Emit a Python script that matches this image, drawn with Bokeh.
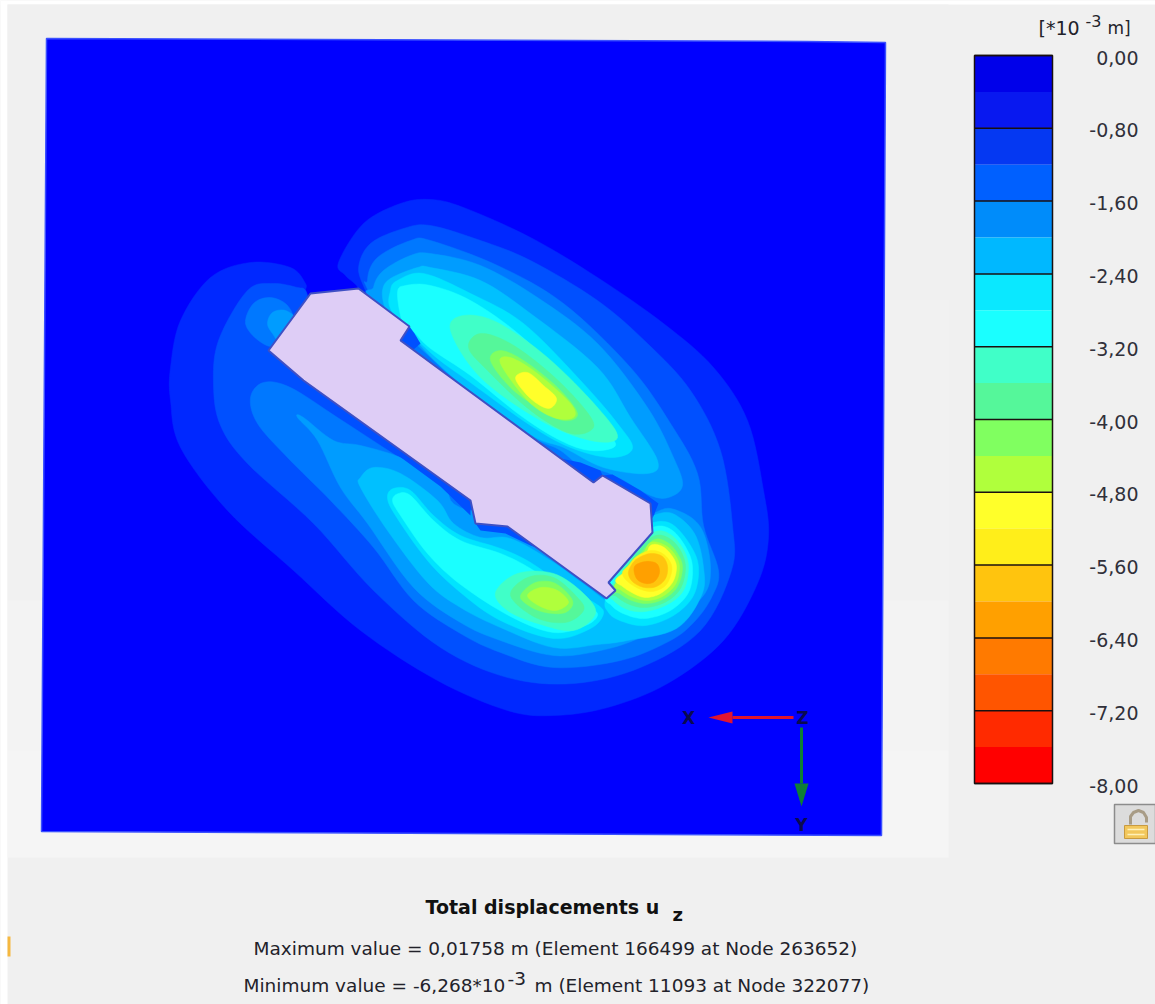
from bokeh.plotting import figure
from bokeh.models import Range1d
from bokeh.embed import file_html
from bokeh.resources import INLINE
from bokeh.core.properties import value
import numpy as np

# ---------- legend data ----------
legend_edges = [0.0,-0.4,-0.8,-1.2,-1.6,-2.0,-2.4,-2.8,-3.2,-3.6,-4.0,-4.4,-4.8,-5.2,-5.6,-6.0,-6.4,-6.8,-7.2,-7.6,-8.0]
legend_colors = ["#0000ea","#0818f0","#0538f2","#0060ff","#008cfa","#00b8ff","#0ae8ff","#1affff",
                 "#40ffc8","#55f79a","#80ff60","#b0ff3c","#ffff2a","#ffee1a","#ffc40e","#ffa000",
                 "#ff7a00","#ff5500","#ff2a00","#ff0000"]
map_colors = ["#0000ff","#0028ff","#0050ff","#0078ff","#009cff","#00c0ff","#00e4ff","#1affff",
              "#40ffc8","#55f79a","#80ff60","#b0ff3c","#ffff2a","#ffee1a","#ffc40e","#ffa000"]
legend_ticks = [0.0,-0.8,-1.6,-2.4,-3.2,-4.0,-4.8,-5.6,-6.4,-7.2,-8.0]
legend_labels = ["0,00","-0,80","-1,60","-2,40","-3,20","-4,00","-4,80","-5,60","-6,40","-7,20","-8,00"]

# ---------- map outlines ----------
model_outline = [(46,38),(806,41),(885,42),(881,835),(41,831)]
building = [(268,350),(310,293),(358,288),(409,326),(400,340),(593,482),(602,475),(650,503),(652,532),
            (608,582),(615,590),(606,598),(507,526),(475,523),(470,500),(303,380)]

band02 = [(430,199),(463,207),(530,237),(597,277),(663,323),(713,367),(747,420),(763,490),(768,537),(757,583),
          (723,640),(667,683),(607,707),(553,715),(507,710),(437,680),(360,630),(293,570),(227,510),(180,447),
          (170,400),(170,367),(180,320),(210,277),(250,262),(290,267),(305,283),(306,292),(320,310),(350,310),
          (358,289),(345,275),(338,262),(363,223),(400,203)]
band03 = [(430,225),(480,240),(530,260),(597,300),(647,343),(690,390),(720,450),(732,525),(731,570),
          (700,630),(640,667),(573,683),(507,677),(440,647),(373,590),(313,523),(247,463),(220,425),(213,385),
          (218,340),(247,290),(273,283),(297,287),(305,290),(315,310),(360,310),(366,295),(358,268),(370,243),(403,228)]
band04_main = [(375,305),(367,280),(377,257),(410,240),(430,240),(497,265),(563,303),(630,367),(670,423),(697,473),
               (703,525),(718,570),(712,595),(695,620),(670,640),(620,660),(553,667),(500,652),
               (460,633),(413,600),(373,547),(330,500),(287,457),(257,423),(250,397),(263,382),(290,387),(337,417),
               (383,447),(430,478),(465,505),(480,510)]
band04_left = [(245,323),(253,303),(270,297),(287,305),(292,322),(275,345),(258,340)]
band05_left = [(267,323),(272,312),(285,310),(295,320),(280,340),(272,333)]
band05_up = [(376,305),(373,287),(383,270),(410,255),(430,253),(480,265),(537,297),(597,343),(647,407),(673,457),
             (682,485),(668,497),(650,495),(620,478),(600,470),(585,470),(560,450),(540,441),(500,420)]
band05_low = [(470,510),(443,480),(400,457),(360,445),(333,440),(303,417),(297,417),(317,440),(340,487),(367,523),
              (413,587),(460,622),(500,640),(553,655),(600,650),(640,637),(682,613),(705,592),(710,567),(704,535),
              (692,518),(670,508),(655,512),(640,520)]
band06_up = [(385,308),(382,290),(390,278),(417,267),(430,267),(480,280),(530,313),(597,367),(630,417),(657,460),
             (647,473),(603,467),(563,447),(530,434),(460,383),(420,345),(415,330),(395,315)]
band06_low = [(640,520),(652,515),(672,513),(694,533),(703,567),(701,595),(676,628),(627,640),(597,644),(553,647),
              (500,627),(460,607),(427,582),(387,530),(360,487),(360,477),(373,467),(400,473),(437,500),(453,523),
              (480,537),(510,538),(550,560),(585,585),(606,600),(606,590)]
band07_up = [(392,312),(390,290),(397,280),(423,273),(470,293),(523,323),(580,380),(617,423),(632,448),(610,457),
             (570,447),(530,425),(470,382),(430,352)]
band07_low = [(387,497),(393,488),(410,490),(433,515),(460,535),(500,548),(530,562),(570,590),(595,603),(603,613),
              (590,628),(553,638),(500,620),(460,592),(427,560),(395,515)]
band07_hot = [(630,535),(653,522),(672,524),(690,545),(698,567),(693,595),(673,615),(645,625),(622,621),(608,612),(606,595)]
band08_up = [(402,322),(397,292),(405,285),(430,285),(470,300),(520,335),(570,385),(600,425),(615,445),(590,450),
             (560,440),(520,415),(470,375),(430,348),(412,330)]
band08_low = [(392,500),(398,493),(410,495),(433,520),(460,540),(500,553),(530,568),(565,592),(590,607),(597,615),
              (585,625),(553,632),(510,616),(460,584),(427,553),(400,515)]
band08_hot = [(632,540),(655,526),(672,530),(686,548),(692,567),(688,592),(670,610),(645,618),(625,614),(611,605),(606,592)]
band09_up = [(450,330),(463,315),(497,322),(547,357),(597,407),(617,437),(590,440),(540,420),(480,377)]
band09_low = [(495,592),(517,573),(553,573),(583,593),(595,613),(573,630),(537,623),(507,610)]
band09_hot = [(636,545),(655,531),(670,534),(683,549),(688,567),(683,590),(667,604),(645,611),(627,609),(613,600),(609,590)]
band10_up = [(468,347),(480,333),(510,343),(550,373),(583,407),(593,427),(570,433),(530,410),(487,370)]
band10_low = [(510,595),(527,577),(553,577),(577,597),(583,610),(565,622),(535,617)]
band10_hot = [(640,548),(655,535),(669,538),(680,550),(685,567),(680,588),(666,601),(646,607),(629,604),(616,596),(611,589)]
band11_up = [(490,360),(500,350),(523,360),(557,387),(577,413),(563,420),(537,407),(510,387)]
band11_low = [(520,595),(535,582),(555,583),(572,600),(565,612),(545,612),(528,605)]
band11_hot = [(640,553),(654,539),(667,542),(677,553),(682,567),(677,586),(664,598),(647,603),(631,600),(619,593),(613,587)]
band12_up = [(500,363),(510,357),(537,373),(570,403),(573,417),(553,417),(527,400)]
band12_low = [(527,595),(540,587),(557,590),(568,602),(555,610),(538,605)]
band12_hot = [(640,557),(650,542),(665,545),(675,555),(679,567),(675,584),(662,596),(647,600),(633,597),(621,590),(615,583)]
band13_up = [(515,378),(527,372),(543,385),(556,398),(548,408),(530,398)]
band13_hot = [(642,560),(650,545),(662,546),(672,556),(676,567),(672,582),(660,593),(646,597),(635,594),(622,586),(616,578)]
band14_hot = [(628,565),(636,556),(650,550),(662,553),(670,562),(671,572),(665,585),(652,591),(638,588),(626,580),(622,572)]
band15_hot = [(630,566),(637,558),(650,553),(662,556),(667,566),(665,578),(656,586),(644,587),(633,582),(628,574)]
band16_hot = [(634,566),(645,561),(656,563),(659,572),(654,581),(645,583),(636,578)]

wall_notch_a = [(409,326),(400,340),(412,350),(420,343),(414,333)]
wall_notch_b = [(560,458),(593,482),(602,475),(600,470),(580,462)]
wall_end = [(602,475),(650,503),(652,518),(658,503),(640,490),(612,474)]
wall_low_a = [(303,380),(470,500),(470,515),(440,486),(380,442),(330,405)]
wall_low_b = [(475,523),(507,526),(560,556),(530,545),(505,533),(480,530)]

map_bands = [(1,[band02]),(2,[band03]),(3,[band04_main,band04_left]),(4,[band05_left,band05_up,band05_low]),
             (5,[band06_up,band06_low]),(6,[band07_up,band07_low,band07_hot]),(7,[band08_up,band08_low,band08_hot]),
             (8,[band09_up,band09_low,band09_hot]),(9,[band10_up,band10_low,band10_hot]),
             (10,[band11_up,band11_low,band11_hot]),(11,[band12_up,band12_low,band12_hot]),
             (12,[band13_up,band13_hot]),(13,[band14_hot]),(14,[band15_hot]),(15,[band16_hot])]
wall_patches = [(2,[wall_notch_a,wall_low_a]),(2,[wall_notch_b,wall_end,wall_low_b])]

axis_x_line = [(732,717),(793,717)]
axis_x_head = [(708,717),(732,711),(732,723)]
axis_y_line = [(801,727),(801,783)]
axis_y_head = [(794,783),(808,783),(801,806)]
lock_shackle = [(1130,824),(1130,816),(1133,812),(1138,810),(1143,812),(1146,817),(1146,822)]
panel_y = [4,300,600,750,857]
panel_fill = ["#f0f0f0","#f1f1f1","#f3f3f3","#f5f5f5"]

W, H = 1155, 1004
p = figure(width=W, height=H, x_range=Range1d(0,1155), y_range=Range1d(1004,0),
           x_axis_type=None, y_axis_type=None, output_backend="svg", toolbar_location=None,
           min_border=0, background_fill_color="#f0f0f0", border_fill_color="#f0f0f0", outline_line_color=None)
p.grid.visible = False

def smooth(pts, n=8):
    a = np.array(pts, float); m = len(a); out = []
    for i in range(m):
        p0,p1,p2,p3 = a[(i-1)%m],a[i],a[(i+1)%m],a[(i+2)%m]
        for t in np.linspace(0,1,n,endpoint=False):
            out.append(0.5*((2*p1)+(p2-p0)*t+(2*p0-5*p1+4*p2-p3)*t*t+(3*p1-p0-3*p2+p3)*t*t*t))
    return np.array(out)

def xy(pts):
    return [q[0] for q in pts],[q[1] for q in pts]

# window edge and panel behind the model
p.quad(left=0,right=1155,top=0,bottom=4,fill_color="#ffffff",line_color=None)
p.quad(left=0,right=7,top=0,bottom=1004,fill_color="#ffffff",line_color=None)
p.quad(left=7,right=10,top=936,bottom=956,fill_color="#f5b840",line_color=None)
p.quad(left=7,right=948,top=panel_y[:-1],bottom=panel_y[1:],fill_color=panel_fill,line_color=None)
mx,my = xy(model_outline)
p.patch(mx,my,fill_color=map_colors[0],line_color="#3a50ff",line_width=1.5)

for idx,polys in map_bands:
    for poly in polys:
        s = smooth(poly)
        p.patch(s[:,0],s[:,1],fill_color=map_colors[idx],line_color=map_colors[idx],line_width=0.5)
for idx,polys in wall_patches:
    for poly in polys:
        x,y = xy(poly)
        p.patch(x,y,fill_color=map_colors[idx],line_color=None)
bx,by = xy(building)
p.patch(bx,by,fill_color="#decdf6",line_color="#3f50c4",line_width=2)

# triad
x,y = xy(axis_x_line); p.line(x,y,line_color="#e0152f",line_width=3)
x,y = xy(axis_x_head); p.patch(x,y,fill_color="#e0152f",line_color=None)
x,y = xy(axis_y_line); p.line(x,y,line_color="#0e7f35",line_width=3)
x,y = xy(axis_y_head); p.patch(x,y,fill_color="#0e7f35",line_color=None)
tf = value("DejaVu Sans")
p.text(x=[688,802,801],y=[717,717,824],text=["X","Z","Y"],text_font=tf,text_font_size="17px",text_font_style="bold",
       text_color="#0a0a50",text_align="center",text_baseline="middle")

# legend through its own value scale
scale = 91.0
p.extra_y_ranges = {"legend": Range1d(start=-(1004-55)/scale, end=55/scale)}
p.quad(left=974,right=1052,top=legend_edges[:-1],bottom=legend_edges[1:],fill_color=legend_colors,line_color=None,y_range_name="legend")
p.segment(x0=974,x1=1052,y0=legend_ticks,y1=legend_ticks,line_color="#1a1010",line_width=1.5,y_range_name="legend")
p.quad(left=974,right=1052,top=[legend_edges[0]],bottom=[legend_edges[-1]],fill_color=None,line_color="#1a1010",line_width=1.5,y_range_name="legend")
p.text(x=1138,y=legend_ticks,text=legend_labels,text_align="right",text_baseline="middle",y_offset=2,
       text_font=tf,text_font_size="19px",text_color="#30303a",y_range_name="legend")

def t(x,y,s,size="18.5px",align="left",style="normal",color="#22222a"):
    p.text(x=[x],y=[y],text=[s],text_font=tf,text_font_size=size,text_align=align,text_baseline="middle",
           text_font_style=style,text_color=color)
t(1038,27,"[*10",size="19px"); t(1085,20,"-3",size="16px"); t(1107,27,"m]",size="17px")
t(425,906,"Total displacements u",size="19px",style="bold",color="#111111")
t(672,914,"z",size="18px",style="bold",color="#111111")
t(253,948,"Maximum value = 0,01758 m (Element 166499 at Node 263652)")
t(243,985,"Minimum value = -6,268*10")
t(507,978,"-3")
t(534,985,"m (Element 11093 at Node 322077)")

# lock button
p.quad(left=1114,right=1155,top=804,bottom=843,fill_color="#dcdcdc",line_color="#8c8c8c",line_width=1.5)
x,y = xy(lock_shackle); p.line(x,y,line_color="#a89c86",line_width=3)
p.quad(left=1124,right=1147,top=825,bottom=838,fill_color="#f2c75c",line_color="#c89a40",line_width=1)
p.segment(x0=1127,x1=1144,y0=[829,834],y1=[829,834],line_color="#fff0b8",line_width=1.5)

open("out.html","w").write(file_html(p,INLINE))
